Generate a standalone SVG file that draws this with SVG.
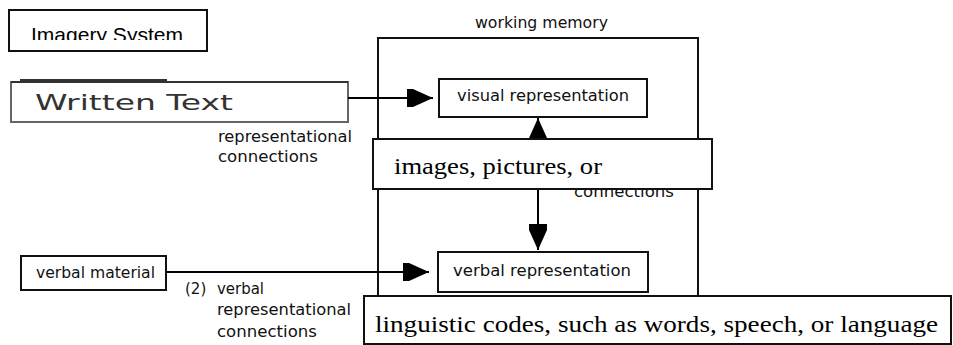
<svg xmlns="http://www.w3.org/2000/svg" width="953" height="345" viewBox="0 0 953 345">
<style>
.box{fill:#fff;stroke:#111;stroke-width:2}
.lbl{font-family:"DejaVu Sans",sans-serif;font-size:15px;fill:#111}
.big{font-family:"Liberation Serif",serif;font-size:24px;fill:#000}
.conn{stroke:#000;stroke-width:2;fill:none}
</style>
<defs>
<marker id="head" markerUnits="userSpaceOnUse" markerWidth="26" markerHeight="20" viewBox="0 0 26 20" refX="26" refY="10" orient="auto-start-reverse">
<path d="M0,1 L6,1 L26,10 L6,19 L0,19 Z" fill="#000"/>
</marker>
<clipPath id="clipImg"><rect x="10" y="11" width="196" height="29"/></clipPath>
</defs>
<g id="working-memory">
<rect x="378" y="38" width="320" height="272" fill="none" stroke="#111" stroke-width="2"/>
<text class="lbl" x="475" y="28" textLength="133" lengthAdjust="spacingAndGlyphs">working memory</text>
</g>
<g id="imagery-system">
<rect class="box" x="9" y="10" width="198" height="41"/>
<text x="31" y="42" font-family="Liberation Sans, sans-serif" font-size="21" fill="#000" clip-path="url(#clipImg)" textLength="152" lengthAdjust="spacingAndGlyphs">Imagery System</text>
</g>
<g id="written-text">
<line x1="20" y1="80" x2="167" y2="80" stroke="#333" stroke-width="2"/>
<rect x="11" y="82" width="337" height="40" fill="#fff" stroke="#666" stroke-width="2"/>
<line x1="11" y1="82" x2="348" y2="82" stroke="#222" stroke-width="1.5"/>
<text x="35" y="110" font-family="DejaVu Sans, sans-serif" font-size="22" fill="#333" textLength="198" lengthAdjust="spacingAndGlyphs">Written Text</text>
</g>
<g id="label-1">
<text class="lbl" x="218" y="142" textLength="134" lengthAdjust="spacingAndGlyphs">representational</text>
<text class="lbl" x="218" y="162" textLength="100" lengthAdjust="spacingAndGlyphs">connections</text>
</g>
<g id="visual-representation">
<rect class="box" x="439" y="79" width="208" height="38"/>
<text class="lbl" x="457" y="101" textLength="172" lengthAdjust="spacingAndGlyphs">visual representation</text>
</g>
<g id="verbal-material">
<rect class="box" x="21" y="256" width="145" height="34"/>
<text class="lbl" x="36" y="278" textLength="119" lengthAdjust="spacingAndGlyphs">verbal material</text>
</g>
<g id="verbal-representation">
<rect class="box" x="438" y="252" width="210" height="40"/>
<text class="lbl" x="453" y="276" textLength="178" lengthAdjust="spacingAndGlyphs">verbal representation</text>
</g>
<g id="label-2">
<text class="lbl" x="185" y="294">(2)</text>
<text class="lbl" x="217" y="294" textLength="47" lengthAdjust="spacingAndGlyphs">verbal</text>
<text class="lbl" x="217" y="315" textLength="134" lengthAdjust="spacingAndGlyphs">representational</text>
<text class="lbl" x="217" y="337" textLength="100" lengthAdjust="spacingAndGlyphs">connections</text>
</g>
<g id="connectors">
<line class="conn" x1="348" y1="98" x2="433" y2="98" marker-end="url(#head)"/>
<line class="conn" x1="166" y1="272" x2="429" y2="272" marker-end="url(#head)"/>
<line class="conn" x1="538" y1="118" x2="538" y2="250" marker-start="url(#head)" marker-end="url(#head)"/>
</g>
<g id="label-1b">
<text class="lbl" x="574" y="197" textLength="100" lengthAdjust="spacingAndGlyphs">connections</text>
</g>
<g id="images-box">
<rect class="box" x="373" y="139" width="339" height="50"/>
<text class="big" x="394" y="174" textLength="208" lengthAdjust="spacingAndGlyphs">images, pictures, or</text>
</g>
<g id="linguistic-box">
<rect class="box" x="364" y="296" width="587" height="48"/>
<text class="big" x="375" y="332" textLength="563" lengthAdjust="spacingAndGlyphs">linguistic codes, such as words, speech, or language</text>
</g>
</svg>
